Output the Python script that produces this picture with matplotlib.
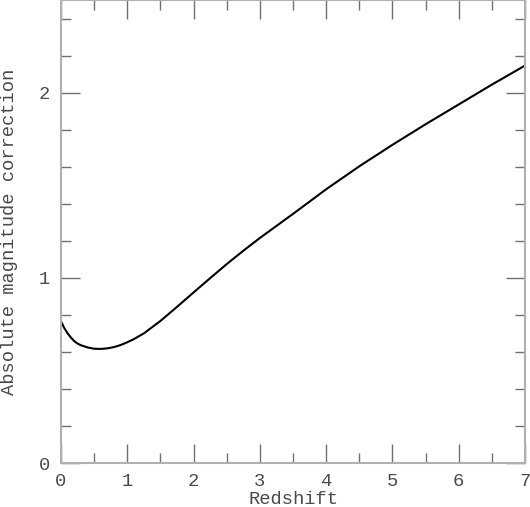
import matplotlib
matplotlib.use("Agg")
import matplotlib.pyplot as plt
from matplotlib.ticker import MultipleLocator

redshift = [0.0, 0.05, 0.1, 0.15, 0.2, 0.25, 0.3, 0.4, 0.5, 0.6, 0.7, 0.8,
            0.9, 1.0, 1.1, 1.25, 1.5, 1.75, 2.0, 2.25, 2.5, 2.75, 3.0, 3.5,
            4.0, 4.5, 5.0, 5.5, 6.0, 6.5, 7.0]
correction = [0.765, 0.728, 0.700, 0.677, 0.658, 0.645, 0.636, 0.624, 0.617,
              0.616, 0.619, 0.626, 0.637, 0.652, 0.669, 0.700, 0.767, 0.843,
              0.921, 0.998, 1.074, 1.146, 1.215, 1.345, 1.478, 1.602, 1.718,
              1.829, 1.936, 2.043, 2.146]

x_label = "Redshift"
y_label = "Absolute magnitude correction"

plt.rcParams['font.family'] = ['Liberation Mono', 'DejaVu Sans Mono']
fig = plt.figure(figsize=(5.30, 5.07), dpi=100)
ax = fig.add_axes([61/530, 44/507, 464/530, 463/507])

ax.plot(redshift, correction, color='black', lw=1.5)
ax.set_xlim(0, 7)
ax.set_ylim(0, 2.5)

ax.xaxis.set_major_locator(MultipleLocator(1))
ax.xaxis.set_minor_locator(MultipleLocator(0.5))
ax.yaxis.set_major_locator(MultipleLocator(1))
ax.yaxis.set_minor_locator(MultipleLocator(0.2))

tick_col = '#707070'
text_col = '#4a4a4a'
fs = 13.5
for s in ax.spines.values():
    s.set_color('#b0b0b0')
    s.set_linewidth(1.5)
ax.tick_params(which='both', direction='in', top=True, right=True,
               color=tick_col, width=1, labelcolor=text_col, labelsize=fs)
ax.tick_params(which='major', length=13.5)
ax.tick_params(which='minor', length=7)
ax.tick_params(axis='x', which='major', pad=7)
ax.tick_params(axis='y', which='major', pad=8)

ax.set_xlabel(x_label, fontsize=fs, color=text_col)
ax.set_ylabel(y_label, fontsize=fs, color=text_col)
ax.xaxis.set_label_coords(0.5, -0.060)
ax.yaxis.set_label_coords(-0.092, 0.5)

fig.savefig("out.png", dpi=100)
